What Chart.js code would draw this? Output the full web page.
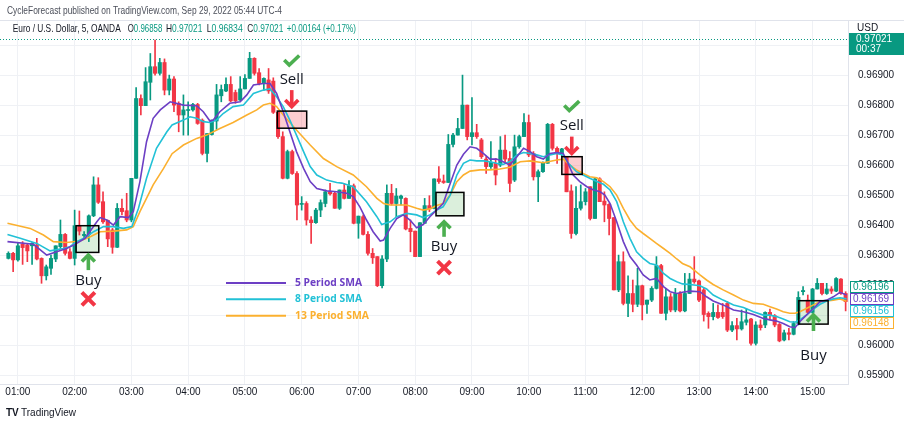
<!DOCTYPE html>
<html><head><meta charset="utf-8">
<script src="https://cdn.jsdelivr.net/npm/chart.js@4.4.0/dist/chart.umd.min.js"></script>
<style>html,body{margin:0;padding:0;background:#fff;}#wrap{width:904px;height:426px;}</style>
</head><body><div id="wrap"><canvas id="c" width="904" height="426"></canvas></div>
<script>
// ---- data (EUR/USD, 5-minute candles) ----
const opens = [
0.96291,0.96308,0.96286,0.96338,0.96336,0.96333,0.96336,0.96291,0.96233,0.96258,
0.96289,0.96330,0.96371,0.96313,0.96291,0.96400,0.96367,0.96371,0.96433,0.96536,
0.96480,0.96418,0.96386,0.96328,0.96458,0.96450,0.96419,0.96558,0.96824,0.96800,
0.96878,0.96930,0.96908,0.96944,0.96852,0.96889,0.96808,0.96769,0.96784,0.96786,
0.96804,0.96752,0.96641,0.96704,0.96749,0.96833,0.96849,0.96871,0.96844,0.96819,
0.96856,0.96891,0.96958,0.96910,0.96874,0.96886,0.96882,0.96778,0.96697,0.96558,
0.96647,0.96574,0.96471,0.96474,0.96419,0.96410,0.96452,0.96474,0.96513,0.96508,
0.96458,0.96519,0.96491,0.96533,0.96408,0.96430,0.96371,0.96308,0.96297,0.96200,
0.96289,0.96508,0.96474,0.96491,0.96491,0.96391,0.96382,0.96297,0.96408,0.96467,
0.96458,0.96556,0.96549,0.96544,0.96671,0.96702,0.96724,0.96802,0.96697,0.96710,
0.96686,0.96622,0.96597,0.96608,0.96602,0.96652,0.96624,0.96552,0.96663,0.96697,
0.96744,0.96641,0.96563,0.96580,0.96608,0.96738,0.96658,0.96641,0.96630,0.96516,
0.96374,0.96458,0.96480,0.96530,0.96424,0.96556,0.96482,0.96471,0.96427,0.96186,
0.96280,0.96141,0.96174,0.96138,0.96200,0.96138,0.96152,0.96191,0.96267,0.96108,
0.96163,0.96119,0.96174,0.96116,0.96174,0.96222,0.96216,0.96186,0.96108,0.96097,
0.96111,0.96111,0.96141,0.96052,0.96067,0.96056,0.96078,0.96089,0.96008,0.96069,
0.96069,0.96111,0.96100,0.96071,0.96019,0.96043,0.96038,0.96074,0.96180,0.96152,
0.96111,0.96189,0.96208,0.96174,0.96189,0.96182,0.96222,0.96174];
const highs = [
0.96313,0.96311,0.96341,0.96347,0.96341,0.96344,0.96358,0.96293,0.96269,0.96302,
0.96333,0.96419,0.96374,0.96324,0.96452,0.96449,0.96380,0.96436,0.96563,0.96560,
0.96513,0.96419,0.96391,0.96474,0.96489,0.96508,0.96558,0.96860,0.96836,0.96927,
0.96974,0.97019,0.96958,0.96956,0.96902,0.96897,0.96813,0.96836,0.96813,0.96808,
0.96808,0.96756,0.96707,0.96752,0.96871,0.96869,0.96893,0.96897,0.96852,0.96897,
0.96904,0.96978,0.96960,0.96924,0.96893,0.96924,0.96893,0.96782,0.96713,0.96652,
0.96652,0.96580,0.96497,0.96480,0.96430,0.96458,0.96486,0.96519,0.96541,0.96513,
0.96519,0.96541,0.96550,0.96539,0.96432,0.96436,0.96380,0.96324,0.96297,0.96300,
0.96536,0.96538,0.96524,0.96502,0.96493,0.96419,0.96382,0.96410,0.96491,0.96500,
0.96556,0.96597,0.96569,0.96704,0.96708,0.96758,0.96902,0.96802,0.96827,0.96738,
0.96691,0.96630,0.96680,0.96624,0.96697,0.96702,0.96647,0.96702,0.96702,0.96774,
0.96769,0.96647,0.96586,0.96613,0.96741,0.96741,0.96663,0.96658,0.96630,0.96536,
0.96530,0.96536,0.96524,0.96530,0.96558,0.96560,0.96513,0.96474,0.96427,0.96302,
0.96313,0.96233,0.96219,0.96258,0.96202,0.96152,0.96197,0.96297,0.96271,0.96191,
0.96174,0.96191,0.96180,0.96241,0.96241,0.96297,0.96219,0.96191,0.96113,0.96141,
0.96136,0.96141,0.96147,0.96080,0.96091,0.96119,0.96124,0.96091,0.96080,0.96086,
0.96113,0.96122,0.96104,0.96074,0.96052,0.96058,0.96080,0.96180,0.96197,0.96169,
0.96191,0.96224,0.96208,0.96208,0.96197,0.96227,0.96224,0.96180];
const lows = [
0.96289,0.96247,0.96282,0.96271,0.96280,0.96271,0.96286,0.96208,0.96219,0.96238,
0.96280,0.96324,0.96302,0.96289,0.96269,0.96369,0.96358,0.96347,0.96430,0.96474,
0.96408,0.96330,0.96308,0.96327,0.96436,0.96413,0.96413,0.96558,0.96769,0.96800,
0.96819,0.96902,0.96902,0.96836,0.96836,0.96780,0.96713,0.96702,0.96702,0.96782,
0.96738,0.96636,0.96613,0.96702,0.96721,0.96813,0.96847,0.96813,0.96808,0.96816,
0.96856,0.96891,0.96902,0.96869,0.96852,0.96841,0.96774,0.96691,0.96556,0.96556,
0.96571,0.96419,0.96452,0.96402,0.96341,0.96408,0.96430,0.96463,0.96502,0.96458,
0.96454,0.96489,0.96491,0.96406,0.96358,0.96369,0.96302,0.96274,0.96197,0.96193,
0.96280,0.96469,0.96430,0.96469,0.96386,0.96313,0.96297,0.96297,0.96408,0.96447,
0.96456,0.96541,0.96541,0.96544,0.96663,0.96702,0.96724,0.96686,0.96669,0.96691,
0.96624,0.96574,0.96591,0.96536,0.96597,0.96613,0.96513,0.96547,0.96658,0.96697,
0.96630,0.96552,0.96480,0.96578,0.96608,0.96652,0.96608,0.96630,0.96513,0.96358,
0.96369,0.96452,0.96469,0.96419,0.96424,0.96480,0.96413,0.96369,0.96186,0.96180,
0.96136,0.96097,0.96113,0.96130,0.96086,0.96108,0.96147,0.96189,0.96108,0.96086,
0.96113,0.96113,0.96113,0.96113,0.96174,0.96208,0.96147,0.96082,0.96058,0.96086,
0.96091,0.96091,0.96047,0.96047,0.96019,0.96052,0.96069,0.96002,0.96002,0.96052,
0.96060,0.96086,0.96063,0.96013,0.96016,0.96019,0.96036,0.96069,0.96169,0.96108,
0.96108,0.96189,0.96169,0.96171,0.96174,0.96180,0.96171,0.96116];
const closes = [
0.96308,0.96286,0.96333,0.96327,0.96316,0.96341,0.96289,0.96233,0.96263,0.96291,
0.96333,0.96371,0.96308,0.96291,0.96400,0.96382,0.96371,0.96433,0.96536,0.96478,
0.96413,0.96356,0.96328,0.96458,0.96447,0.96419,0.96558,0.96824,0.96800,0.96880,
0.96930,0.96908,0.96944,0.96852,0.96889,0.96802,0.96769,0.96786,0.96787,0.96804,
0.96741,0.96641,0.96707,0.96752,0.96836,0.96854,0.96871,0.96816,0.96816,0.96856,
0.96891,0.96958,0.96908,0.96874,0.96891,0.96849,0.96778,0.96697,0.96558,0.96647,
0.96574,0.96469,0.96473,0.96419,0.96410,0.96452,0.96477,0.96513,0.96506,0.96458,
0.96519,0.96491,0.96533,0.96408,0.96432,0.96371,0.96308,0.96293,0.96200,0.96289,
0.96508,0.96474,0.96499,0.96499,0.96389,0.96380,0.96297,0.96410,0.96467,0.96456,
0.96556,0.96547,0.96544,0.96671,0.96702,0.96724,0.96802,0.96697,0.96710,0.96697,
0.96630,0.96597,0.96611,0.96569,0.96652,0.96622,0.96541,0.96663,0.96697,0.96744,
0.96636,0.96563,0.96580,0.96608,0.96738,0.96658,0.96641,0.96656,0.96513,0.96374,
0.96458,0.96480,0.96513,0.96424,0.96556,0.96480,0.96469,0.96424,0.96186,0.96280,
0.96141,0.96174,0.96138,0.96200,0.96136,0.96152,0.96191,0.96267,0.96108,0.96163,
0.96119,0.96174,0.96116,0.96174,0.96222,0.96213,0.96152,0.96104,0.96097,0.96111,
0.96094,0.96097,0.96052,0.96067,0.96056,0.96080,0.96086,0.96008,0.96069,0.96060,
0.96111,0.96100,0.96069,0.96016,0.96043,0.96038,0.96074,0.96161,0.96184,0.96111,
0.96189,0.96208,0.96174,0.96189,0.96182,0.96224,0.96174,0.96147];

// SMA lines at these bar positions
const sma5Bars = [-0.2,5.3,8.1,10.2,12.3,14.0,16.2,18.7,19.4,20.8,22.2,23.6,25.4,26.4,27.8,29.2,30.6,32.1,34.2,37.0,
39.8,41.2,42.6,43.3,44.7,46.8,49.0,50.4,51.8,53.9,55.3,56.7,58.1,59.5,60.9,62.4,63.8,65.2,67.3,69.4,
71.5,72.9,74.3,75.7,77.1,78.6,79.3,80.7,82.1,83.5,84.9,86.3,87.7,89.1,90.5,91.9,93.4,94.8,96.2,97.6,
99.0,100.4,101.8,103.2,104.6,106.0,107.5,108.9,110.3,111.7,113.1,114.5,115.9,117.3,118.0,119.4,120.8,122.3,123.7,125.1,
126.1,127.2,128.6,130.0,131.4,132.8,134.2,135.6,137.0,138.5,139.9,141.3,142.5,144.1,146.2,147.6,149.0,151.1,153.3,155.4,
157.5,159.6,161.0,162.4,163.8,165.2,166.3,167.3,168.7,170.2,171.6,173.0,174.4,175.8,177.2];
const sma5Values = [
0.96347,0.96338,0.96302,0.96313,0.96324,0.96337,0.96358,0.96413,0.96427,0.96419,
0.96402,0.96430,0.96427,0.96447,0.96547,0.96680,0.96758,0.96786,0.96813,0.96802,
0.96800,0.96780,0.96749,0.96752,0.96780,0.96808,0.96813,0.96836,0.96869,0.96874,
0.96874,0.96841,0.96780,0.96713,0.96647,0.96591,0.96547,0.96524,0.96516,0.96513,
0.96508,0.96497,0.96463,0.96419,0.96380,0.96349,0.96352,0.96391,0.96424,0.96436,
0.96419,0.96393,0.96404,0.96430,0.96452,0.96474,0.96541,0.96602,0.96638,0.96663,
0.96658,0.96641,0.96622,0.96622,0.96613,0.96602,0.96630,0.96658,0.96647,0.96630,
0.96622,0.96641,0.96644,0.96641,0.96619,0.96569,0.96547,0.96530,0.96519,0.96513,
0.96502,0.96474,0.96413,0.96347,0.96297,0.96269,0.96236,0.96219,0.96224,0.96197,
0.96180,0.96174,0.96178,0.96182,0.96180,0.96163,0.96149,0.96136,0.96119,0.96113,
0.96104,0.96091,0.96086,0.96082,0.96074,0.96063,0.96060,0.96080,0.96102,0.96124,
0.96147,0.96152,0.96163,0.96178,0.96169];
const sma8Bars = [-0.2,2.5,6.0,8.8,11.6,13.0,14.4,16.2,18.0,20.1,22.2,24.3,26.1,27.5,29.2,31.3,33.5,34.6,37.0,38.4,
39.8,41.2,42.6,44.0,45.4,47.5,49.7,51.8,53.9,55.3,56.7,58.1,59.5,60.9,62.4,63.8,65.2,67.3,69.4,70.5,
72.9,75.7,77.9,78.9,80.7,82.1,84.2,86.3,87.7,89.1,90.5,91.9,93.4,94.8,96.2,97.6,99.0,100.4,101.8,103.2,
104.6,106.0,107.5,108.9,110.3,111.7,113.1,114.5,115.9,117.3,118.4,120.1,121.5,122.9,124.4,125.8,127.2,128.6,130.0,131.4,
132.8,134.2,135.6,137.0,138.5,139.9,141.3,142.5,144.1,146.2,147.6,149.0,151.1,153.3,155.4,157.5,159.6,161.0,162.4,163.8,
165.2,166.3,167.3,168.7,170.2,171.6,173.0,174.4,175.8,177.2];
const sma8Values = [
0.96371,0.96358,0.96341,0.96316,0.96324,0.96330,0.96347,0.96360,0.96380,0.96397,
0.96397,0.96391,0.96397,0.96458,0.96558,0.96658,0.96713,0.96736,0.96752,0.96763,
0.96758,0.96747,0.96744,0.96752,0.96774,0.96797,0.96802,0.96841,0.96852,0.96856,
0.96830,0.96797,0.96752,0.96702,0.96647,0.96597,0.96569,0.96552,0.96544,0.96542,
0.96530,0.96480,0.96430,0.96404,0.96413,0.96430,0.96441,0.96436,0.96427,0.96436,
0.96452,0.96463,0.96502,0.96569,0.96608,0.96619,0.96616,0.96616,0.96613,0.96608,
0.96604,0.96614,0.96636,0.96644,0.96641,0.96636,0.96630,0.96636,0.96641,0.96636,
0.96608,0.96580,0.96569,0.96558,0.96547,0.96538,0.96519,0.96480,0.96413,0.96358,
0.96313,0.96291,0.96274,0.96269,0.96241,0.96224,0.96213,0.96206,0.96204,0.96200,
0.96189,0.96169,0.96152,0.96136,0.96127,0.96113,0.96102,0.96102,0.96097,0.96089,
0.96080,0.96078,0.96086,0.96102,0.96122,0.96138,0.96149,0.96156,0.96160,0.96156];
const sma13Bars = [-0.2,4.6,7.4,9.5,12.3,15.1,17.3,19.4,22.2,25.0,26.4,27.8,30.6,32.8,34.6,37.0,39.8,41.9,44.7,47.5,
50.4,52.5,53.9,55.3,56.7,58.1,60.9,63.8,66.6,69.4,72.9,75.7,77.9,79.3,80.7,82.1,84.2,86.3,87.7,89.1,
90.5,91.9,93.4,94.8,96.2,97.6,99.7,101.8,103.9,106.0,108.2,110.3,113.1,115.9,117.3,118.7,120.1,121.5,122.9,124.4,
125.8,127.2,128.6,130.0,131.4,132.8,134.2,135.6,137.0,138.5,139.9,141.3,142.5,144.1,146.2,147.6,149.0,151.1,153.3,155.4,
157.5,159.6,161.0,162.4,163.8,165.2,166.3,167.3,168.7,170.2,171.6,173.0,174.4,175.8,177.2];
const sma13Values = [
0.96408,0.96391,0.96369,0.96347,0.96344,0.96349,0.96363,0.96380,0.96382,0.96386,
0.96397,0.96447,0.96536,0.96591,0.96640,0.96669,0.96691,0.96702,0.96724,0.96744,
0.96769,0.96786,0.96802,0.96808,0.96797,0.96769,0.96719,0.96669,0.96624,0.96597,
0.96569,0.96530,0.96491,0.96474,0.96469,0.96469,0.96469,0.96458,0.96452,0.96456,
0.96467,0.96474,0.96502,0.96547,0.96569,0.96582,0.96586,0.96586,0.96589,0.96595,
0.96613,0.96616,0.96610,0.96619,0.96622,0.96602,0.96586,0.96574,0.96563,0.96560,
0.96547,0.96530,0.96502,0.96458,0.96419,0.96391,0.96374,0.96358,0.96341,0.96324,
0.96308,0.96289,0.96274,0.96263,0.96236,0.96219,0.96204,0.96186,0.96169,0.96152,
0.96141,0.96138,0.96130,0.96122,0.96113,0.96108,0.96108,0.96113,0.96124,0.96136,
0.96147,0.96149,0.96152,0.96156,0.96148];

const hourLabels = ['01:00','02:00','03:00','04:00','05:00','06:00','07:00','08:00','09:00','10:00','11:00','12:00','13:00','14:00','15:00'];
const hourBars = [2,14,26,38,50,62,74,86,98,110,122,134,146,158,170];
const priceTicks = [0.959,0.960,0.961,0.962,0.963,0.964,0.965,0.966,0.967,0.968,0.969,0.970];
const smaNames = ['5 Period SMA', '8 Period SMA', '13 Period SMA'];
const lastPrice = 0.97021;
const lastValueLabels = [0.96196, 0.96169, 0.96156, 0.96148];
const headerValues = ['0.96858', '0.97021', '0.96834', '0.97021', '+0.00164 (+0.17%)'];

// signal boxes: bar range and price range
const signalBoxes = [
  {kind:'buy',  from:14.3,  to:19.1,  top:0.96400, bottom:0.96311},
  {kind:'sell', from:56.85, to:63.06, top:0.96782, bottom:0.96725},
  {kind:'buy',  from:90.4,  to:96.3,  top:0.96511, bottom:0.96433},
  {kind:'sell', from:117.0, to:121.3, top:0.96630, bottom:0.96571},
  {kind:'buy',  from:167.1, to:173.3, top:0.96150, bottom:0.96072}
];
const signalMarks = [
  {kind:'buy',  bar:16.9,  tip:0.96302, tail:0.96252, text:0.96217, icon:0.96156, result:'x'},
  {kind:'sell', bar:59.9,  tip:0.96797, tail:0.96852, text:0.96886, icon:0.96949, result:'check'},
  {kind:'buy',  bar:92.1,  tip:0.96413, tail:0.96363, text:0.96331, icon:0.96260, result:'x'},
  {kind:'sell', bar:119.1, tip:0.96641, tail:0.96697, text:0.96732, icon:0.96797, result:'check'},
  {kind:'buy',  bar:170.2, tip:0.96102, tail:0.96049, text:0.95966, icon:null, result:null}
];

// ---- styling ----
const UP = '#089981', DOWN = '#f23645';
const smaColors = ['#6c3fc4', '#22c1d6', '#fbb02f'];
const FONT = '"Liberation Sans", Arial, sans-serif';

const idx = closes.map((_, i) => i);
const candleColors = idx.map(i => closes[i] >= opens[i] ? UP : DOWN);
const smaSets = [[sma5Bars, sma5Values], [sma8Bars, sma8Values], [sma13Bars, sma13Values]];

function fitParts(ctx, parts, x, y, width, font) {
  ctx.font = font;
  const total = parts.reduce((s, p) => s + ctx.measureText(p[0]).width, 0);
  const k = width / total;
  ctx.save();
  ctx.translate(x, y);
  ctx.scale(k, 1);
  ctx.textAlign = 'left';
  ctx.textBaseline = 'middle';
  let cx = 0;
  parts.forEach(([t, c]) => { ctx.fillStyle = c; ctx.fillText(t, cx, 0); cx += ctx.measureText(t).width; });
  ctx.restore();
}
function drawArrow(ctx, x, yTail, yTip, color) {
  const dir = Math.sign(yTip - yTail);
  ctx.save();
  ctx.strokeStyle = color; ctx.lineWidth = 3.6; ctx.lineCap = 'butt'; ctx.lineJoin = 'miter';
  ctx.beginPath(); ctx.moveTo(x, yTail); ctx.lineTo(x, yTip - dir * 1.5); ctx.stroke();
  ctx.beginPath(); ctx.moveTo(x - 6.5, yTip - dir * 6.5); ctx.lineTo(x, yTip); ctx.lineTo(x + 6.5, yTip - dir * 6.5); ctx.stroke();
  ctx.restore();
}
function drawCheck(ctx, x, y) {
  ctx.save();
  ctx.strokeStyle = '#4caf50'; ctx.lineWidth = 3.6; ctx.lineJoin = 'miter';
  ctx.beginPath(); ctx.moveTo(x - 7.5, y - 1); ctx.lineTo(x - 2.5, y + 4); ctx.lineTo(x + 7.5, y - 5.5); ctx.stroke();
  ctx.restore();
}
function drawX(ctx, x, y) {
  ctx.save();
  ctx.strokeStyle = '#f23645'; ctx.lineWidth = 4;
  ctx.beginPath(); ctx.moveTo(x - 6.5, y - 6.5); ctx.lineTo(x + 6.5, y + 6.5);
  ctx.moveTo(x + 6.5, y - 6.5); ctx.lineTo(x - 6.5, y + 6.5); ctx.stroke();
  ctx.restore();
}

const deco = {
  id: 'deco',
  beforeDatasetsDraw(chart) {
    const {ctx, scales: {x, y}, chartArea: a} = chart;
    ctx.save();
    ctx.beginPath(); ctx.rect(a.left, a.top, a.right - a.left, a.bottom - a.top); ctx.clip();
    const py = Math.round(y.getPixelForValue(lastPrice)) + 0.5;
    ctx.strokeStyle = UP; ctx.lineWidth = 1; ctx.setLineDash([1, 2]);
    ctx.beginPath(); ctx.moveTo(a.left, py); ctx.lineTo(a.right, py); ctx.stroke();
    ctx.setLineDash([]);
    signalBoxes.forEach(b => {
      const x0 = x.getPixelForValue(b.from), x1 = x.getPixelForValue(b.to);
      const y0 = y.getPixelForValue(b.top), y1 = y.getPixelForValue(b.bottom);
      ctx.fillStyle = b.kind === 'buy' ? 'rgba(76,175,80,0.2)' : 'rgba(242,54,69,0.25)';
      ctx.fillRect(x0, y0, x1 - x0, y1 - y0);
    });
    ctx.restore();
  },
  afterDatasetsDraw(chart) {
    const {ctx, scales: {x, y}} = chart;
    ctx.save();
    signalBoxes.forEach(b => {
      const x0 = x.getPixelForValue(b.from), x1 = x.getPixelForValue(b.to);
      const y0 = y.getPixelForValue(b.top), y1 = y.getPixelForValue(b.bottom);
      ctx.strokeStyle = '#000'; ctx.lineWidth = 1.5;
      ctx.strokeRect(x0, y0, x1 - x0, y1 - y0);
    });
    signalMarks.forEach(m => {
      const px = x.getPixelForValue(m.bar);
      drawArrow(ctx, px, y.getPixelForValue(m.tail), y.getPixelForValue(m.tip), m.kind === 'buy' ? '#4caf50' : '#f23645');
      ctx.font = '15px "Open Sans", ' + FONT;
      ctx.fillStyle = '#131722'; ctx.textAlign = 'center'; ctx.textBaseline = 'middle';
      ctx.fillText(m.kind === 'buy' ? 'Buy' : 'Sell', px, y.getPixelForValue(m.text));
      if (m.result === 'x') drawX(ctx, px, y.getPixelForValue(m.icon));
      if (m.result === 'check') drawCheck(ctx, px, y.getPixelForValue(m.icon));
    });
    const legY = [283, 299.3, 315.7], legW = [67, 67, 74];
    smaNames.forEach((name, i) => {
      ctx.strokeStyle = smaColors[i]; ctx.lineWidth = 2;
      ctx.beginPath(); ctx.moveTo(226, legY[i]); ctx.lineTo(286, legY[i]); ctx.stroke();
      fitParts(ctx, [[name, smaColors[i]]], 295, legY[i], legW[i], 'bold 11px "Open Sans", ' + FONT);
    });
    ctx.restore();
  },
  afterDraw(chart) {
    const {ctx, scales: {y}} = chart;
    ctx.save();
    ctx.strokeStyle = '#e0e3eb'; ctx.lineWidth = 1;
    ctx.beginPath(); ctx.moveTo(0, 20.5); ctx.lineTo(904, 20.5); ctx.stroke();
    fitParts(ctx, [['CycleForecast published on TradingView.com, Sep 29, 2022 05:44 UTC-4', '#4a4e59']], 7, 11, 275, '10.5px ' + FONT);
    fitParts(ctx, [['Euro / U.S. Dollar, 5, OANDA', '#131722']], 12.7, 29.5, 108, '10.5px ' + FONT);
    const hx = [127.7, 166, 206.7, 247.3], hw = [34.6, 36.3, 36, 36];
    ['O', 'H', 'L', 'C'].forEach((l, i) => fitParts(ctx, [[l, '#131722'], [headerValues[i], UP]], hx[i], 29.5, hw[i], '10.5px ' + FONT));
    fitParts(ctx, [[headerValues[4], UP]], 286.7, 29.5, 69.3, '10.5px ' + FONT);
    ctx.font = '10px ' + FONT; ctx.textBaseline = 'middle'; ctx.textAlign = 'left';
    ctx.fillStyle = '#131722'; ctx.fillText('USD', 857, 28);
    ctx.fillStyle = UP; ctx.fillRect(849, 33, 55, 22);
    ctx.fillStyle = '#fff'; ctx.fillText(lastPrice.toFixed(5), 856, 38.8); ctx.fillText('00:37', 856, 49.2);
    const lblColors = [UP, smaColors[0], smaColors[1], smaColors[2]];
    let prev = -1e9;
    lastValueLabels.forEach((v, i) => {
      const cy = Math.max(y.getPixelForValue(v), prev + 12);
      prev = cy;
      const top = Math.round(cy - 5.5);
      ctx.fillStyle = '#fff'; ctx.fillRect(850, top, 43, 11);
      ctx.strokeStyle = lblColors[i]; ctx.lineWidth = 1; ctx.strokeRect(850.5, top + 0.5, 43, 11);
      ctx.fillStyle = lblColors[i]; ctx.fillText(v.toFixed(5), 853, top + 6.5);
    });
    ctx.fillStyle = '#131722';
    ctx.font = 'bold 10px ' + FONT; ctx.fillText('TV', 6, 413);
    ctx.font = '10px ' + FONT; ctx.fillText('TradingView', 21, 413);
    ctx.restore();
  }
};

const lineDs = smaSets.map(([bars, vals], k) => ({
  type: 'line', label: smaNames[k],
  data: bars.map((b, j) => ({x: b, y: vals[j]})),
  borderColor: smaColors[k], borderWidth: 1.6, pointRadius: 0, tension: 0, order: k + 1
}));

new Chart(document.getElementById('c'), {
  type: 'bar',
  data: {
    datasets: [
      ...lineDs,
      { type: 'bar', label: 'body', data: idx.map(i => ({x: i, y: [opens[i], closes[i]]})), backgroundColor: candleColors, barThickness: 3.4, minBarLength: 1, grouped: false, borderWidth: 0, order: 4 },
      { type: 'bar', label: 'wick', data: idx.map(i => ({x: i, y: [lows[i], highs[i]]})), backgroundColor: candleColors, barThickness: 1, minBarLength: 1, grouped: false, borderWidth: 0, order: 5 }
    ]
  },
  options: {
    responsive: false, animation: false, devicePixelRatio: 1, events: [],
    layout: { padding: { top: 20, bottom: 26, left: 0, right: 0 } },
    plugins: { legend: { display: false }, tooltip: { enabled: false } },
    scales: {
      x: {
        type: 'linear', min: -1.78, max: 177.5, offset: false,
        grid: { color: '#eff1f5', drawTicks: false, offset: false },
        border: { display: true, color: '#e0e3eb' },
        afterBuildTicks: s => { s.ticks = hourBars.map(v => ({value: v})); },
        afterFit: s => { s.height = 16; },
        ticks: { autoSkip: false, maxRotation: 0, padding: 2, color: '#131722', font: { family: FONT, size: 10 },
                 callback: (v, i) => hourLabels[i] }
      },
      y: {
        position: 'right', min: 0.9587233, max: 0.9708567, beginAtZero: false,
        grid: { color: '#eff1f5', drawTicks: false },
        border: { display: true, color: '#e0e3eb' },
        afterBuildTicks: s => { s.ticks = priceTicks.map(v => ({value: v})); },
        afterFit: s => { s.width = 56; },
        ticks: { padding: 10, color: '#131722', font: { family: FONT, size: 10 }, callback: v => Number(v).toFixed(5) }
      }
    }
  },
  plugins: [deco]
});
</script>
</body></html>
